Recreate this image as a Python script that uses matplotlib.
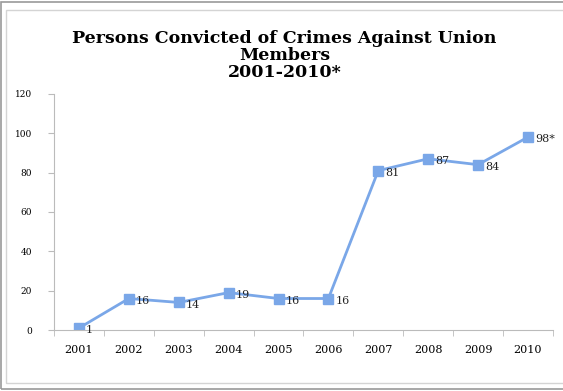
import numpy as np
import matplotlib.pyplot as plt
from matplotlib.patches import Rectangle

# Convictions per year
years = ['2001', '2002', '2003', '2004', '2005', '2006', '2007', '2008', '2009', '2010']
convicted = [1, 16, 14, 19, 16, 16, 81, 87, 84, 98]
point_labels = ['1', '16', '14', '19', '16', '16', '81', '87', '84', '98*']
y_ticks = [0, 20, 40, 60, 80, 100, 120]

plt.rcParams['font.family'] = ['DejaVu Serif']

fig = plt.figure(figsize=(5.63, 3.91), dpi=100)

# Outer chart frame
fig.patches.append(Rectangle((0.002, 0.005), 1.2, 0.99, transform=fig.transFigure,
                             fill=False, edgecolor='#9a9a9a', linewidth=1.2))
fig.patches.append(Rectangle((0.010, 0.020), 1.2, 0.955, transform=fig.transFigure,
                             fill=False, edgecolor='#d4d4d4', linewidth=1.0))

ax = fig.add_axes([0.096, 0.156, 0.886, 0.604])

x = np.arange(len(years))
line_color = '#7aa7e8'
ax.plot(x, convicted, color=line_color, linewidth=2.0, marker='s',
        markersize=7, markerfacecolor=line_color, markeredgecolor=line_color)

for xi, yi, lab in zip(x, convicted, point_labels):
    ax.annotate(lab, (xi, yi), xytext=(5, -1.5), textcoords='offset points',
                ha='left', va='center', fontsize=8, color='#222222')

ax.set_xlim(-0.5, len(years) - 0.5)
ax.set_ylim(0, 120)
ax.set_yticks(y_ticks)
ax.set_yticklabels([str(v) for v in y_ticks], fontsize=6.5)
ax.set_xticks(x)
ax.set_xticklabels(years, fontsize=8)
ax.set_xticks(np.arange(-0.5, len(years), 1.0), minor=True)
ax.tick_params(axis='x', which='major', length=0, pad=11)
ax.tick_params(axis='x', which='minor', length=4, color='#bbbbbb', direction='out')
ax.tick_params(axis='y', length=4, color='#bbbbbb', pad=12)

for side in ['top', 'right']:
    ax.spines[side].set_visible(False)
ax.spines['left'].set_color('#bbbbbb')
ax.spines['bottom'].set_color('#bbbbbb')

fig.text(0.505, 0.858, 'Persons Convicted of Crimes Against Union\nMembers\n2001-2010*',
         ha='center', va='center', fontsize=12.5, fontweight='bold',
         linespacing=1.0)

fig.savefig('out.png', dpi=100)
